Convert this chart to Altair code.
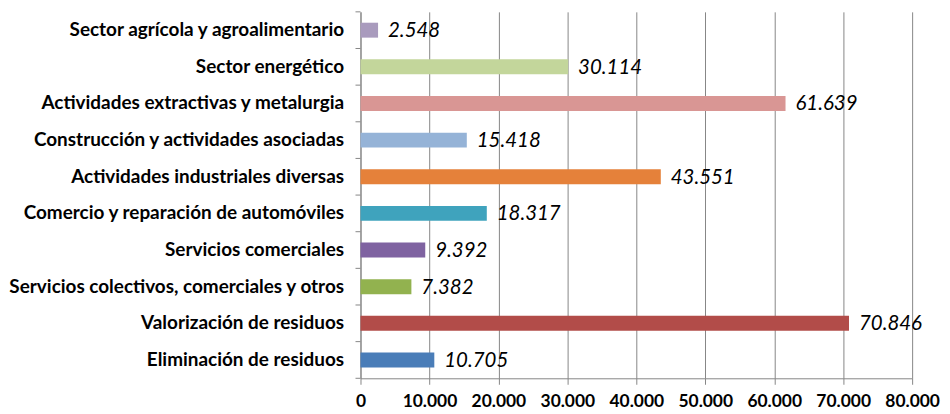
import altair as alt
import pandas as pd

categories = [
    "Sector agrícola y agroalimentario",
    "Sector energético",
    "Actividades extractivas y metalurgia",
    "Construcción y actividades asociadas",
    "Actividades industriales diversas",
    "Comercio y reparación de automóviles",
    "Servicios comerciales",
    "Servicios colectivos, comerciales y otros",
    "Valorización de residuos",
    "Eliminación de residuos",
]
values = [2548, 30114, 61639, 15418, 43551, 18317, 9392, 7382, 70846, 10705]
colors = ["#A99BBD", "#C3D69B", "#D99694", "#95B3D7", "#E5813A",
          "#3FA3BD", "#7F63A1", "#92B24F", "#B24C49", "#4A7DB8"]
x_ticks = [0, 10000, 20000, 30000, 40000, 50000, 60000, 70000, 80000]

df = pd.DataFrame({"cat": categories, "val": values, "color": colors})
df["label"] = [f"{v:,}".replace(",", ".") for v in values]

W, H = 554, 368
band = H / len(categories)

y_enc = alt.Y("cat:N", sort=categories, title=None,
              scale=alt.Scale(paddingInner=0, paddingOuter=0),
              axis=alt.Axis(ticks=False, domain=True, domainColor="#868686",
                            labelFont="Lato", labelFontSize=19, labelFontWeight="bold",
                            labelColor="#000000", labelPadding=17, labelLimit=400))
x_enc = alt.X("val:Q", title=None,
              scale=alt.Scale(domain=[0, 80000], nice=False),
              axis=alt.Axis(values=x_ticks, grid=True, gridColor="#868686",
                            domainColor="#868686", tickColor="#868686", tickSize=6,
                            labelFont="Lato", labelFontSize=17.5, labelFontWeight="bold",
                            labelColor="#000000", labelPadding=8, labelOverlap=False,
                            labelFlush=False,
                            labelExpr="replace(format(datum.value, ',d'), ',', '.')"))

bars = alt.Chart(df).mark_bar(size=15).encode(
    x=x_enc, y=y_enc, color=alt.Color("color:N", scale=None)
)
texts = alt.Chart(df).mark_text(align="left", baseline="middle", dx=10, dy=1,
                                font="Lato", fontSize=20.5, fontStyle="italic",
                                color="#000000").encode(
    x="val:Q", y=alt.Y("cat:N", sort=categories), text="label:N"
)
ticks_top = alt.Chart(df).mark_rule(color="#868686", yOffset=-band / 2).encode(
    y=alt.Y("cat:N", sort=categories), x=alt.value(-5), x2=alt.value(0)
)
ticks_bottom = alt.Chart(df.tail(1)).mark_rule(color="#868686", yOffset=band / 2).encode(
    y=alt.Y("cat:N", sort=categories), x=alt.value(-5), x2=alt.value(0)
)

chart = alt.layer(bars, texts, ticks_top, ticks_bottom).properties(
    width=W, height=H,
    autosize=alt.AutoSizeParams(type="none"),
    padding={"left": 354, "top": 3, "right": 30, "bottom": 35},
).configure_view(stroke=None).configure_axis(gridWidth=1)

chart.save("out.html", embed_options={"renderer": "svg", "actions": False})
